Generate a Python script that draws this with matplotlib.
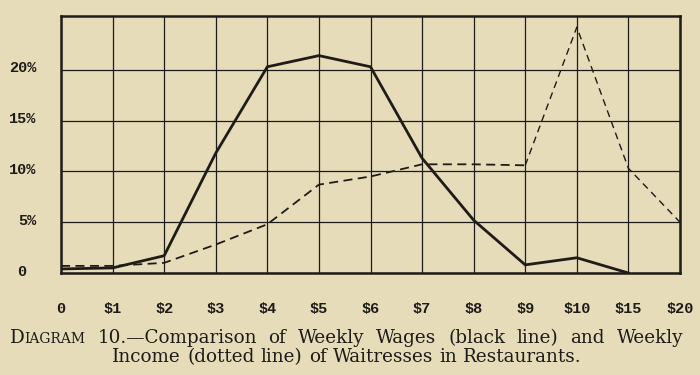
#!/usr/bin/env python3
"""Diagram 10: weekly wages vs weekly income of waitresses."""
import matplotlib
matplotlib.use("Agg")
import matplotlib.pyplot as plt
from matplotlib.transforms import ScaledTranslation

wage_labels = ["0", "$1", "$2", "$3", "$4", "$5", "$6", "$7", "$8", "$9", "$10", "$15", "$20"]
wages_pct = [0.4, 0.5, 1.7, 11.8, 20.3, 21.4, 20.3, 11.3, 5.2, 0.8, 1.5, 0.0]
income_pct = [0.7, 0.7, 1.0, 2.8, 4.8, 8.7, 9.5, 10.7, 10.7, 10.6, 24.2, 10.3, 5.0]
y_ticks = [0, 5, 10, 15, 20]
y_labels = ["0 ", "5%", "10%", "15%", "20%"]

caption_1 = ["10.\u2014Comparison", "of", "Weekly", "Wages", "(black", "line)", "and", "Weekly"]
caption_2 = ["Income", "(dotted", "line)", "of", "Waitresses", "in", "Restaurants."]

paper = "#e6dcb9"
ink = "#1e1c18"
W, H = 700, 375

fig = plt.figure(figsize=(7, 3.75), dpi=100, facecolor=paper)
ax = fig.add_axes([61 / W, 1 - 273 / H, 619 / W, 257 / H], facecolor=paper)

x = list(range(len(wage_labels)))
ax.plot(x[:len(wages_pct)], wages_pct, color=ink, lw=2.0, solid_joinstyle="miter")
# income line: heavier dashes up to $9, lighter beyond
ax.plot(x[:10], income_pct[:10], color=ink, lw=1.3, ls=(0, (5, 3)))
ax.plot(x[9:], income_pct[9:], color=ink, lw=1.0, ls=(0, (5, 3.5)))

ax.set_xlim(0, len(wage_labels) - 1)
ax.set_ylim(0, 25.3)
ax.set_xticks(x)
ax.set_xticklabels(wage_labels)
ax.set_yticks(y_ticks)
ax.set_yticklabels(y_labels)
ax.grid(True, color=ink, lw=0.9)
ax.tick_params(length=0, pad=18, labelsize=11, colors=ink)
ax.tick_params(axis="x", pad=21)
lift = ScaledTranslation(0, 3 / 100, fig.dpi_scale_trans)
for lab in ax.get_xticklabels() + ax.get_yticklabels():
    lab.set_family("Liberation Mono")
    lab.set_weight("bold")
for lab in ax.get_yticklabels():
    lab.set_transform(lab.get_transform() + lift)
for sp in ax.spines.values():
    sp.set_linewidth(1.8)
    sp.set_color(ink)

serif = dict(family="DejaVu Serif", color=ink, va="baseline", ha="left")
renderer = fig.canvas.get_renderer()


def gap_after(pieces):
    # no gap between the small-caps parts of "DIAGRAM"
    return [0 if s == "D" else 1 for s, _ in pieces[:-1]]


def justify(pieces, x0, x1, ybase):
    """Spread text pieces (text, size) evenly between x0 and x1 pixels."""
    arts = [fig.text(0, 1 - ybase / H, s, size=sz, **serif) for s, sz in pieces]
    widths = [a.get_window_extent(renderer).width for a in arts]
    gaps = gap_after(pieces)
    extra = (x1 - x0 - sum(widths)) / max(sum(gaps), 1)
    pos = x0
    for a, w, g in zip(arts, widths, gaps + [0]):
        a.set_x(pos / W)
        pos += w + g * extra


line1 = [("D", 13.2), ("IAGRAM", 10.0)] + [(w, 13.2) for w in caption_1]
line2 = [(w, 13.2) for w in caption_2]
justify(line1, 10, 683, 343)
justify(line2, 112, 582, 362)

fig.savefig("out.png", dpi=100, facecolor=paper)
